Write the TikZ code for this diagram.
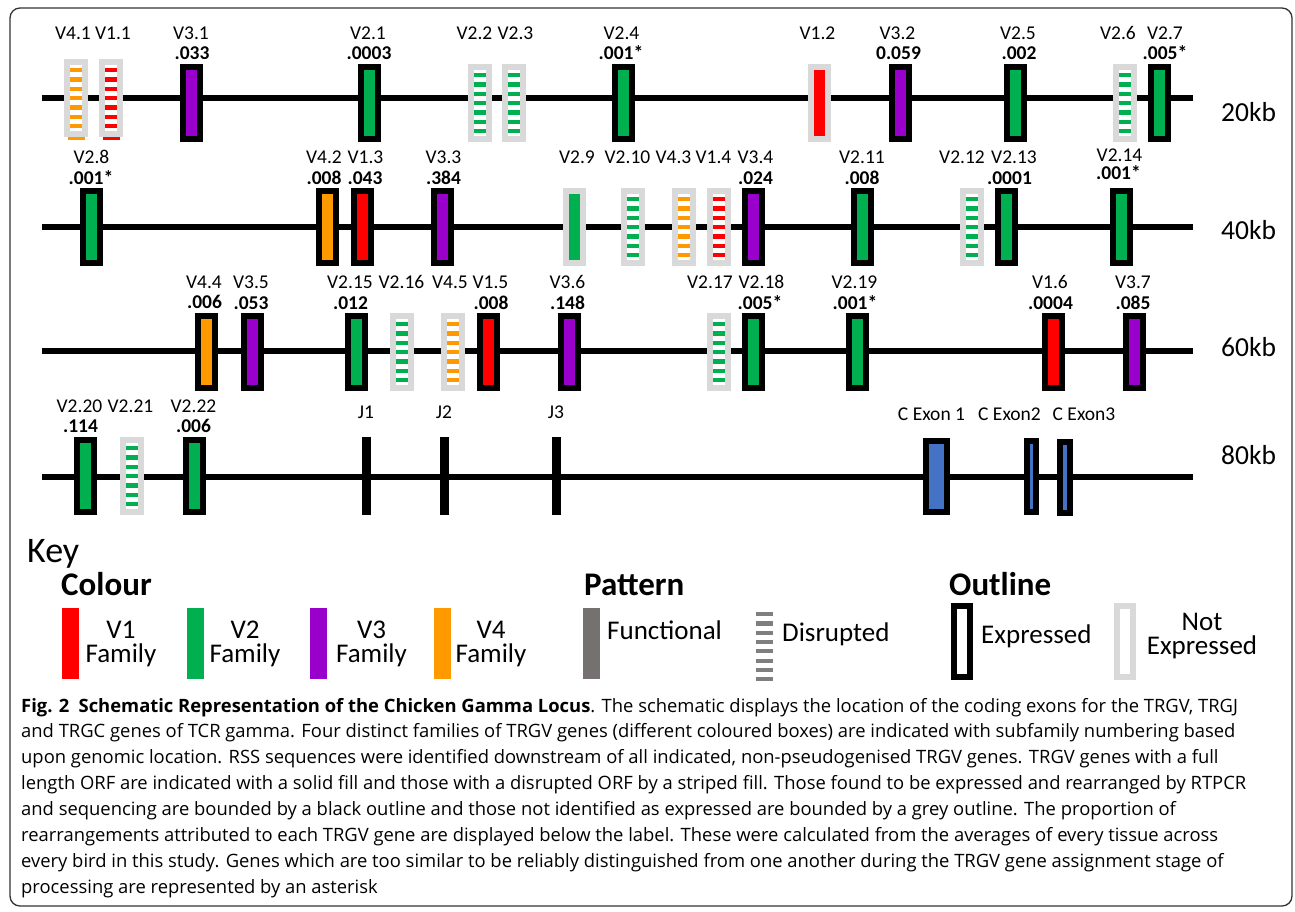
\documentclass[tikz,border=0pt]{standalone}
\usepackage{fontspec}
\setmainfont{Carlito}
\newfontfamily\capfont{Open Sans}
\usetikzlibrary{calc}

\definecolor{vone}{HTML}{FF0000}
\definecolor{vtwo}{HTML}{00B050}
\definecolor{vthree}{HTML}{9900CC}
\definecolor{vfour}{HTML}{FF9900}
\definecolor{cexon}{HTML}{4472C4}
\definecolor{notexp}{HTML}{D9D9D9}
\definecolor{funcgrey}{HTML}{767171}
\definecolor{disgrey}{HTML}{7F7F7F}
\definecolor{framegrey}{HTML}{333333}

\tikzset{
  chrom/.style={line width=5.5pt, black},
  % striped interior of a disrupted gene
  stripes/.style={path picture={%
    \foreach \k in {0,...,6}{%
      \pgfmathsetmacro\sy{-6-9.3*\k}%
      \fill[#1] ([xshift=3pt,yshift=\sy pt]path picture bounding box.north west) rectangle ++(12pt,-4.3pt);
    }}},
  expbox/.style={draw=black, line width=6pt, fill=#1, minimum width=17pt,
    minimum height=72pt, inner sep=0pt, outer sep=0pt},
  nxbox/.style={expbox=#1, draw=notexp},
  disbox/.style={draw=notexp, line width=6pt, fill=white, minimum width=18pt,
    minimum height=72pt, inner sep=0pt, outer sep=0pt, stripes=#1},
  jseg/.style={fill=black, draw=none, minimum width=9pt, minimum height=78pt, inner sep=0pt},
  glabel/.style={font=\fontsize{19.5}{22}\selectfont, inner sep=0pt, anchor=base},
  gval/.style={font=\bfseries\fontsize{19.5}{22}\selectfont, inner sep=0pt, anchor=base},
  kblabel/.style={font=\fontsize{27.5}{30}\selectfont, inner sep=0pt, anchor=base west},
  keyhead/.style={font=\bfseries\fontsize{33}{36}\selectfont, inner sep=0pt, anchor=base west},
  keybar/.style={minimum width=17pt, minimum height=71pt, inner sep=0pt, draw=none},
  keytxt/.style={font=\fontsize{27}{30}\selectfont, inner sep=0pt, anchor=base},
  keypair/.style={font=\fontsize{27}{23.5}\selectfont, inner sep=0pt, align=center, anchor=base},
  keystripe/.style={minimum width=17pt, minimum height=69pt, inner sep=0pt, draw=none,
    path picture={%
      \foreach \k in {0,...,7}{%
        \pgfmathsetmacro\sy{-9.3*\k}%
        \fill[disgrey] ([yshift=\sy pt]path picture bounding box.north west) rectangle ++(17pt,-4.2pt);
      }}},
  captxt/.style={font=\capfont\fontsize{18.4}{22}\selectfont, inner sep=0pt, anchor=base west},
}

\begin{document}
\begin{tikzpicture}[x=1pt,y=-1pt]
\useasboundingbox (0,0) rectangle (1295,911);
\draw[framegrey, line width=1.3pt, rounded corners=10pt] (10,8) rectangle (1292,906);

% ---------- 20kb ----------
\coordinate (r1a) at (42,98); \coordinate (r1b) at (1193,98);
\draw[chrom] (r1a) -- (r1b);
\node[disbox=vfour] (g41) at (76,98) {};
\node[disbox=vone]  (g11) at (111,98) {};
\fill[vfour] (68,136.5) rectangle (85,139.5);
\fill[vone]  (103,136.5) rectangle (120,139.5);
\node[expbox=vthree] (g31) at (191.5,103) {};
\node[expbox=vtwo]   (g21) at (369.5,103) {};
\node[disbox=vtwo]   (g22) at (480,103) {};
\node[disbox=vtwo]   (g23) at (514,103) {};
\node[expbox=vtwo]   (g24) at (623.5,103) {};
\node[nxbox=vone]    (g12) at (819.5,103) {};
\node[expbox=vthree] (g32) at (900,103) {};
\node[expbox=vtwo]   (g25) at (1015,103) {};
\node[disbox=vtwo]   (g26) at (1125,103) {};
\node[expbox=vtwo]   (g27) at (1159,103) {};

\node[glabel] (l41) at (73,39.3) {V4.1};
\node[glabel] (l11) at (113,39.3) {V1.1};
\node[glabel] (l31) at (191,39.3) {V3.1};
\node[gval]   (p31) at (192,59.3) {.033};
\node[glabel] (l21) at (368,39.3) {V2.1};
\node[gval]   (p21) at (369,59.3) {.0003};
\node[glabel] (l22) at (474.5,39.3) {V2.2};
\node[glabel] (l23) at (515.5,39.3) {V2.3};
\node[glabel] (l24) at (621.5,39.3) {V2.4};
\node[gval]   (p24) at (621,59.3) {.001*};
\node[glabel] (l12) at (817.5,39.3) {V1.2};
\node[glabel] (l32) at (897.5,39.3) {V3.2};
\node[gval]   (p32) at (898.5,59.3) {0.059};
\node[glabel] (l25) at (1018,39.3) {V2.5};
\node[gval]   (p25) at (1019,59.3) {.002};
\node[glabel] (l26) at (1118,39.3) {V2.6};
\node[glabel] (l27) at (1165,39.3) {V2.7};
\node[gval]   (p27) at (1165,59.3) {.005*};
\node[kblabel] (kb20) at (1221,121.7) {20kb};

% ---------- 40kb ----------
\coordinate (r2a) at (42,227); \coordinate (r2b) at (1193,227);
\draw[chrom] (r2a) -- (r2b);
\node[expbox=vtwo]   (g28)  at (91,227) {};
\node[expbox=vfour]  (g42)  at (327,227) {};
\node[expbox=vone]   (g13)  at (362.5,227) {};
\node[expbox=vthree] (g33)  at (442,227) {};
\node[nxbox=vtwo]    (g29)  at (574.5,227) {};
\node[disbox=vtwo]   (g210) at (632.5,227) {};
\node[disbox=vfour]  (g43)  at (684,227) {};
\node[disbox=vone]   (g14)  at (718.5,227) {};
\node[expbox=vthree] (g34)  at (753,227) {};
\node[expbox=vtwo]   (g211) at (862,227) {};
\node[disbox=vtwo]   (g212) at (972,227) {};
\node[expbox=vtwo]   (g213) at (1006.5,227) {};
\node[expbox=vtwo]   (g214) at (1121.5,227) {};

\node[glabel] (l28)  at (91.5,163.3) {V2.8};
\node[gval]   (p28)  at (91,184) {.001*};
\node[glabel] (l42)  at (324,163.3) {V4.2};
\node[gval]   (p42)  at (324,184) {.008};
\node[glabel] (l13)  at (365.5,163.3) {V1.3};
\node[gval]   (p13)  at (365,184) {.043};
\node[glabel] (l33)  at (443.5,163.3) {V3.3};
\node[gval]   (p33)  at (443.5,184) {.384};
\node[glabel] (l29)  at (577,163.3) {V2.9};
\node[glabel] (l210) at (627.5,163.3) {V2.10};
\node[glabel] (l43)  at (673.5,163.3) {V4.3};
\node[glabel] (l14)  at (713.5,163.3) {V1.4};
\node[glabel] (l34)  at (755.5,163.3) {V3.4};
\node[gval]   (p34)  at (755.5,184) {.024};
\node[glabel] (l211) at (862,163.3) {V2.11};
\node[gval]   (p211) at (862,184) {.008};
\node[glabel] (l212) at (962,163.3) {V2.12};
\node[glabel] (l213) at (1014,163.3) {V2.13};
\node[gval]   (p213) at (1009.5,184) {.0001};
\node[glabel] (l214) at (1119.5,161) {V2.14};
\node[gval]   (p214) at (1118.5,179.5) {.001*};
\node[kblabel] (kb40) at (1221,239.3) {40kb};

% ---------- 60kb ----------
\coordinate (r3a) at (42,351); \coordinate (r3b) at (1193,351);
\draw[chrom] (r3a) -- (r3b);
\node[expbox=vfour]  (g44)  at (206.5,352) {};
\node[expbox=vthree] (g35)  at (252,352) {};
\node[expbox=vtwo]   (g215) at (356,352) {};
\node[disbox=vtwo]   (g216) at (401.5,352) {};
\node[disbox=vfour]  (g45)  at (452.5,352) {};
\node[expbox=vone]   (g15)  at (488.5,352) {};
\node[expbox=vthree] (g36)  at (569,352) {};
\node[disbox=vtwo]   (g217) at (718.5,352) {};
\node[expbox=vtwo]   (g218) at (753,352) {};
\node[expbox=vtwo]   (g219) at (857,352) {};
\node[expbox=vone]   (g16)  at (1053,352) {};
\node[expbox=vthree] (g37)  at (1134,352) {};

\node[glabel] (l44)  at (204,288.3) {V4.4};
\node[gval]   (p44)  at (204.5,308) {.006};
\node[glabel] (l35)  at (251,288.3) {V3.5};
\node[gval]   (p35)  at (251,309.5) {.053};
\node[glabel] (l215) at (350,288.3) {V2.15};
\node[gval]   (p215) at (350.5,309.5) {.012};
\node[glabel] (l216) at (401.5,288.3) {V2.16};
\node[glabel] (l45)  at (450,288.3) {V4.5};
\node[glabel] (l15)  at (490.5,288.3) {V1.5};
\node[gval]   (p15)  at (491,309.5) {.008};
\node[glabel] (l36)  at (567.5,288.3) {V3.6};
\node[gval]   (p36)  at (567.5,309.5) {.148};
\node[glabel] (l217) at (710,288.3) {V2.17};
\node[glabel] (l218) at (761.5,288.3) {V2.18};
\node[gval]   (p218) at (760,309.5) {.005*};
\node[glabel] (l219) at (854.5,288.3) {V2.19};
\node[gval]   (p219) at (855,309.5) {.001*};
\node[glabel] (l16)  at (1050,288.3) {V1.6};
\node[gval]   (p16)  at (1050.5,309.5) {.0004};
\node[glabel] (l37)  at (1133,288.3) {V3.7};
\node[gval]   (p37)  at (1133,309.5) {.085};
\node[kblabel] (kb60) at (1221,356) {60kb};

% ---------- 80kb ----------
\coordinate (r4a) at (42,477); \coordinate (r4b) at (1193,477);
\draw[chrom] (r4a) -- (r4b);
\node[expbox=vtwo] (g220) at (85,476) {};
\node[disbox=vtwo] (g221) at (131.5,476) {};
\node[expbox=vtwo] (g222) at (194.5,476) {};
\node[jseg] (j1) at (366,476) {};
\node[jseg] (j2) at (444,476) {};
\node[jseg] (j3) at (556,476) {};
\node[expbox=cexon, minimum width=21pt, minimum height=71pt] (ce1) at (936.5,476.5) {};
\node[expbox=cexon, minimum width=9pt, minimum height=71pt]  (ce2) at (1031.5,476.5) {};
\node[expbox=cexon, minimum width=10pt, minimum height=71pt] (ce3) at (1065,477.5) {};

\node[glabel] (l220) at (79.5,412) {V2.20};
\node[gval]   (p220) at (80.5,432) {.114};
\node[glabel] (l221) at (130.5,412) {V2.21};
\node[glabel] (l222) at (193.5,412) {V2.22};
\node[gval]   (p222) at (193.5,432) {.006};
\node[glabel] (lj1) at (366,418) {J1};
\node[glabel] (lj2) at (444,418) {J2};
\node[glabel] (lj3) at (556,418) {J3};
\node[glabel] (lce1) at (931.5,420) {C Exon 1};
\node[glabel] (lce2) at (1009.5,420) {C Exon2};
\node[glabel] (lce3) at (1084,420) {C Exon3};
\node[kblabel] (kb80) at (1221,464) {80kb};

% ---------- key ----------
\node[anchor=base west, font=\fontsize{36}{40}\selectfont, inner sep=0pt] (key) at (27,562) {Key};
\node[keyhead] (kcol) at (61,595.5) {Colour};
\node[keyhead] (kpat) at (584,595.5) {Pattern};
\node[keyhead] (kout) at (949,595.5) {Outline};

\node[keybar, fill=vone]   (kv1) at (70.5,643.5) {};
\node[keypair] (kv1t) at (121,662) {V1\\Family};
\node[keybar, fill=vtwo]   (kv2) at (195,643.5) {};
\node[keypair] (kv2t) at (245,662) {V2\\Family};
\node[keybar, fill=vthree] (kv3) at (318,643.5) {};
\node[keypair] (kv3t) at (371.5,662) {V3\\Family};
\node[keybar, fill=vfour]  (kv4) at (442,643.5) {};
\node[keypair] (kv4t) at (491,662) {V4\\Family};

\node[keybar, fill=funcgrey] (kfun) at (591.5,643.5) {};
\node[keytxt, anchor=base west] (kfunt) at (607,639.5) {Functional};
\node[keystripe] (kdis) at (764.5,646.5) {};
\node[keytxt, anchor=base west] (kdist) at (782,641) {Disrupted};

\node[expbox=white, minimum width=16pt, minimum height=71pt] (kexp) at (962,641.5) {};
\node[keytxt, anchor=base west] (kexpt) at (981,643) {Expressed};
\node[nxbox=white, minimum width=16pt, minimum height=71pt] (knx) at (1125,641.5) {};
\node[keypair] (knxt) at (1202,654) {Not\\Expressed};

% ---------- caption ----------
\node[captxt] (cap1) at (21,712) {\textbf{Fig. 2\hspace{0.5em}Schematic Representation of the Chicken Gamma Locus}. The schematic displays the location of the coding exons for the TRGV, TRGJ};
\node[captxt] (cap2) at (21,737.9) {and TRGC genes of TCR gamma. Four distinct families of TRGV genes (different coloured boxes) are indicated with subfamily numbering based};
\node[captxt] (cap3) at (21,763.8) {upon genomic location. RSS sequences were identified downstream of all indicated, non-pseudogenised TRGV genes. TRGV genes with a full};
\node[captxt] (cap4) at (21,789.7) {length ORF are indicated with a solid fill and those with a disrupted ORF by a striped fill. Those found to be expressed and rearranged by RTPCR};
\node[captxt] (cap5) at (21,815.6) {and sequencing are bounded by a black outline and those not identified as expressed are bounded by a grey outline. The proportion of};
\node[captxt] (cap6) at (21,841.5) {rearrangements attributed to each TRGV gene are displayed below the label. These were calculated from the averages of every tissue across};
\node[captxt] (cap7) at (21,867.4) {every bird in this study. Genes which are too similar to be reliably distinguished from one another during the TRGV gene assignment stage of};
\node[captxt] (cap8) at (21,893.3) {processing are represented by an asterisk};
\end{tikzpicture}
\end{document}
